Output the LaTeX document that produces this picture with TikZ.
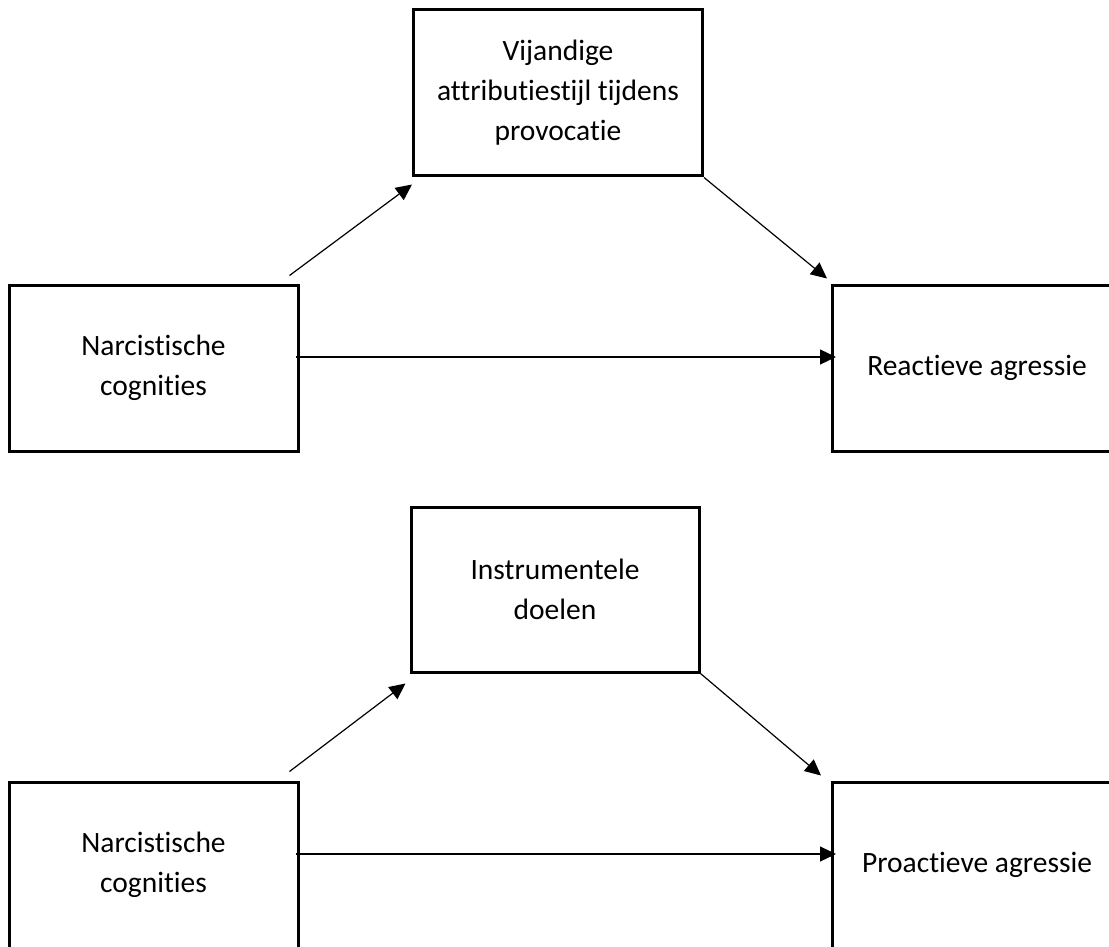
\documentclass[tikz,border=0pt]{standalone}
\usepackage{fontspec}
\setmainfont{Carlito}[Ligatures=NoCommon]
\usetikzlibrary{arrows.meta}

\begin{document}
\begin{tikzpicture}[x=1pt,y=-1pt,->,>={Triangle[length=16pt,width=15pt]},
                    line width=1.2pt,
                    box/.style={draw,rectangle,line width=3pt,inner sep=0pt,
                      minimum width=289pt,minimum height=166pt,align=center,
                      font=\fontsize{29.5}{40}\selectfont}]
  \useasboundingbox (0,0) rectangle (1109,947);
  \clip (0,0) rectangle (1109,947);

  % reactive
  \node[box] (N1) at (153.5,368) {Narcistische\\cognities};
  \node[box] (V)  at (558,93)    {Vijandige\\attributiestijl tijdens\\provocatie};
  \node[box] (R)  at (977,368)   {Reactieve agressie};

  \path ([xshift=-10pt,yshift=8pt]N1.north east) edge ([yshift=-7pt]V.south west);
  \path (V.south east) edge ([xshift=-4pt,yshift=5pt]R.north west);
  \path ([xshift=-4pt,yshift=11pt]N1.east) edge ([xshift=5pt,yshift=11pt]R.west);

  % proactive
  \node[box] (N2) at (153.5,865) {Narcistische\\cognities};
  \node[box,minimum width=288pt,minimum height=165pt] (I) at (555,589.5) {Instrumentele\\doelen};
  \node[box] (P)  at (977,865)   {Proactieve agressie};

  \path ([xshift=-10pt,yshift=9pt]N2.north east) edge ([xshift=-4pt,yshift=-10pt]I.south west);
  \path (I.south east) edge ([xshift=-10pt,yshift=5pt]P.north west);
  \path ([xshift=-4pt,yshift=11pt]N2.east) edge ([xshift=5pt,yshift=11pt]P.west);
\end{tikzpicture}
\end{document}
